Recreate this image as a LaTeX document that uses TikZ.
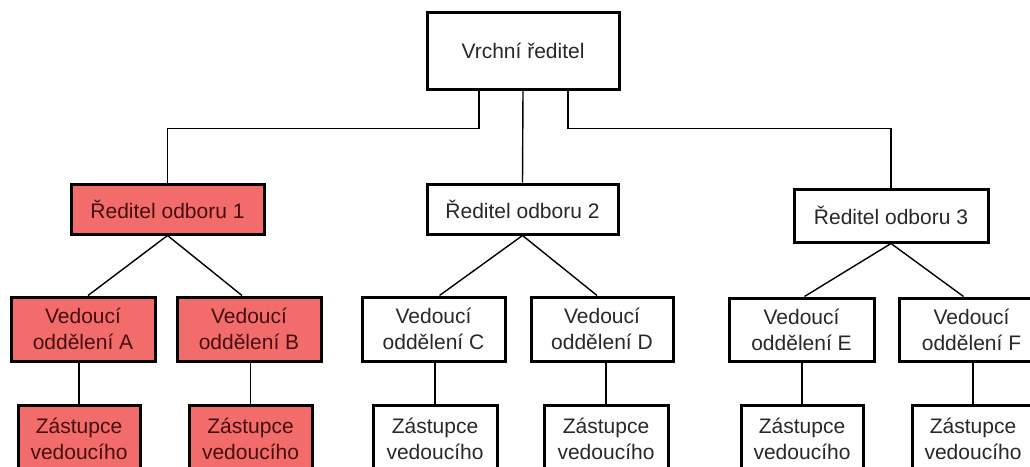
\documentclass[tikz,border=0pt]{standalone}
\usepackage{fontspec}
\setmainfont{Liberation Sans}
\definecolor{boxred}{RGB}{242,108,108}
\definecolor{redtext}{RGB}{70,14,14}
\definecolor{graytext}{RGB}{40,40,40}
\begin{document}
\begin{tikzpicture}[x=1pt,y=-1pt,
  orgbox/.style={draw=black,line width=3pt,fill=white,text=graytext,
    font=\fontsize{21}{26}\selectfont,align=center,inner sep=0pt},
  hilite/.style={orgbox,fill=boxred,text=redtext},
  link/.style={draw=black,line width=1.4pt}]
\useasboundingbox (0,0) rectangle (1030,466);
\fill[white] (0,0) rectangle (1030,466);
\clip (0,0) rectangle (1030,466);

% top level
\node[orgbox,minimum width=192pt,minimum height=77pt] (top) at (523,50.5) {Vrchní ředitel};

% directors of the departments
\node[hilite,minimum width=193pt,minimum height=50pt] (r1) at (167.5,209) {Ředitel odboru 1};
\node[orgbox,minimum width=191pt,minimum height=50pt] (r2) at (522.5,209) {Ředitel odboru 2};
\node[orgbox,minimum width=194pt,minimum height=53pt] (r3) at (891,215.5) {Ředitel odboru 3};

% heads of sections
\node[hilite,minimum width=144pt,minimum height=64pt] (vA) at (83,329) {Vedoucí\\oddělení A};
\node[hilite,minimum width=144pt,minimum height=64pt] (vB) at (249,329) {Vedoucí\\oddělení B};
\node[orgbox,minimum width=143pt,minimum height=64pt] (vC) at (433.5,329) {Vedoucí\\oddělení C};
\node[orgbox,minimum width=142pt,minimum height=64pt] (vD) at (602,329) {Vedoucí\\oddělení D};
\node[orgbox,minimum width=145pt,minimum height=63pt] (vE) at (801.5,329.5) {Vedoucí\\oddělení E};
\node[orgbox,minimum width=145pt,minimum height=63pt] (vF) at (971.5,329.5) {Vedoucí\\oddělení F};

% deputies
\node[hilite,minimum width=122pt,minimum height=67pt] (zA) at (79,438.5) {Zástupce\\vedoucího};
\node[hilite,minimum width=123pt,minimum height=67pt] (zB) at (250.5,438.5) {Zástupce\\vedoucího};
\node[orgbox,minimum width=124pt,minimum height=67pt] (zC) at (435,438.5) {Zástupce\\vedoucího};
\node[orgbox,minimum width=124pt,minimum height=67pt] (zD) at (606,438.5) {Zástupce\\vedoucího};
\node[orgbox,minimum width=122pt,minimum height=67pt] (zE) at (802,438.5) {Zástupce\\vedoucího};
\node[orgbox,minimum width=122pt,minimum height=67pt] (zF) at (973,438.5) {Zástupce\\vedoucího};

% connectors from the top
\draw[link] ([xshift=-44pt]top.south) -- ++(0,38) -| (r1.north);
\draw[link] (top.south) -- (r2.north);
\draw[link] ([xshift=45pt]top.south) -- ++(0,38) -| (r3.north);

% connectors to the heads of sections
\draw[link] (r1.south) -- ([xshift=5pt]vA.north);
\draw[link] (r1.south) -- ([xshift=-7pt]vB.north);
\draw[link] (r2.south) -- ([xshift=6pt]vC.north);
\draw[link] (r2.south) -- ([xshift=-5pt]vD.north);
\draw[link] (r3.south) -- ([xshift=3pt]vE.north);
\draw[link] (r3.south) -- ([xshift=-8pt]vF.north);

% connectors to the deputies
\draw[link] (vA.south -| zA.north) -- (zA.north);
\draw[link] (vB.south -| zB.north) -- (zB.north);
\draw[link] (vC.south -| zC.north) -- (zC.north);
\draw[link] (vD.south -| zD.north) -- (zD.north);
\draw[link] (vE.south -| zE.north) -- (zE.north);
\draw[link] (vF.south -| zF.north) -- (zF.north);
\end{tikzpicture}
\end{document}
